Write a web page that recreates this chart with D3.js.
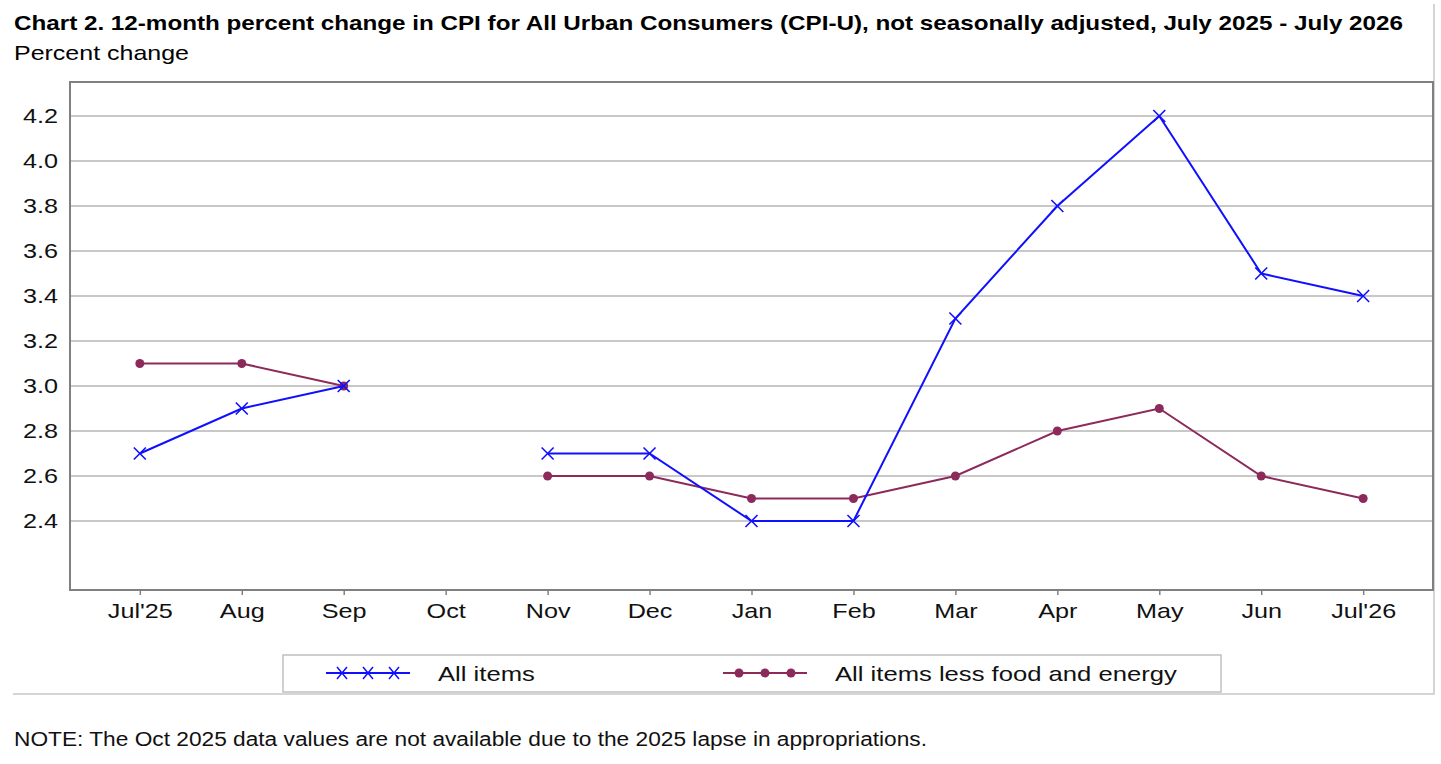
<!DOCTYPE html>
<html lang="en">
<head>
    <meta charset="UTF-8">
    <title>CPI chart</title>
    <script src="https://cdn.jsdelivr.net/npm/d3@7"></script>
    <style>
        * { padding: 0; margin: 0; }
        body { background: #fff; }
        svg { display: block; font-family: "Liberation Sans", Arial, sans-serif; }
    </style>
</head>
<body>
    <div class="context"></div>
    <script>
        // data
        let months = ["Jul'25", "Aug", "Sep", "Oct", "Nov", "Dec", "Jan", "Feb", "Mar", "Apr", "May", "Jun", "Jul'26"];
        let allItems = [2.7, 2.9, 3.0, null, 2.7, 2.7, 2.4, 2.4, 3.3, 3.8, 4.2, 3.5, 3.4];
        let coreItems = [3.1, 3.1, 3.0, null, 2.6, 2.6, 2.5, 2.5, 2.6, 2.8, 2.9, 2.6, 2.5];
        let yTicks = [2.4, 2.6, 2.8, 3.0, 3.2, 3.4, 3.6, 3.8, 4.0, 4.2];

        let blue = "#1010ff";
        let purple = "#8c2a5c";
        let W = 1441, H = 764;
        let plot = { left: 70, right: 1433, top: 82, bottom: 590 };
        let stretch = 1.2; // reference font is wider than Arial

        var svg = d3.select(".context").append("svg")
            .attr("width", W)
            .attr("height", H);

        // widen a text node horizontally keeping its height
        function widen(sel, k) {
            sel.each(function () {
                let len = this.getComputedTextLength();
                d3.select(this).attr("textLength", len * k).attr("lengthAdjust", "spacingAndGlyphs");
            });
        }

        // outer frame (right + bottom only)
        svg.append("path")
            .attr("d", "M1434,4 V694 H13")
            .attr("fill", "none")
            .attr("stroke", "#c8c8c8")
            .attr("stroke-width", 1.5);

        svg.append("text")
            .attr("x", 14).attr("y", 30)
            .attr("font-size", 21).attr("font-weight", "bold")
            .attr("textLength", 1389).attr("lengthAdjust", "spacingAndGlyphs")
            .text("Chart 2. 12-month percent change in CPI for All Urban Consumers (CPI-U), not seasonally adjusted, July 2025 - July 2026");
        svg.append("text")
            .attr("x", 14).attr("y", 60)
            .attr("font-size", 21)
            .attr("textLength", 175).attr("lengthAdjust", "spacingAndGlyphs")
            .text("Percent change");

        let x = d3.scalePoint().domain(months).range([plot.left, plot.right]).padding(0.685);
        // 4.2 sits at y=116, 2.4 at y=521
        let y = d3.scaleLinear().domain([2.0933, 4.351]).range([plot.bottom, plot.top]);

        // gridlines
        svg.append("g").selectAll("line").data(yTicks).enter().append("line")
            .attr("x1", plot.left).attr("x2", plot.right)
            .attr("y1", d => y(d)).attr("y2", d => y(d))
            .attr("stroke", "#c8c8c8").attr("stroke-width", 2);

        // frame of plot
        svg.append("rect")
            .attr("x", plot.left).attr("y", plot.top)
            .attr("width", plot.right - plot.left).attr("height", plot.bottom - plot.top)
            .attr("fill", "none").attr("stroke", "#808080").attr("stroke-width", 2);

        // y axis
        let yAxis = svg.append("g")
            .attr("transform", "translate(" + plot.left + ",0)")
            .call(d3.axisLeft(y).tickValues(yTicks).tickFormat(d3.format(".1f")).tickSize(0).tickPadding(12));
        yAxis.select(".domain").remove();
        yAxis.selectAll("text").attr("font-size", 21).attr("fill", "#111").attr("font-family", "Liberation Sans, Arial, sans-serif")
            .call(widen, stretch);

        // x axis
        let xAxis = svg.append("g")
            .attr("transform", "translate(0," + (plot.bottom + 1) + ")")
            .call(d3.axisBottom(x).tickSize(4).tickPadding(8));
        xAxis.select(".domain").remove();
        xAxis.selectAll("line").attr("stroke", "#808080").attr("stroke-width", 1.5);
        xAxis.selectAll("text").attr("font-size", 21).attr("fill", "#111").attr("font-family", "Liberation Sans, Arial, sans-serif")
            .call(widen, stretch);

        let line = d3.line()
            .defined(d => d.v !== null)
            .x(d => x(d.m))
            .y(d => y(d.v));

        function series(values, color, marker) {
            let pts = months.map((m, i) => ({ m: m, v: values[i] }));
            svg.append("path")
                .datum(pts)
                .attr("d", line)
                .attr("fill", "none")
                .attr("stroke", color)
                .attr("stroke-width", 2);
            let good = pts.filter(d => d.v !== null);
            if (marker === "x") {
                svg.append("g").selectAll("path").data(good).enter().append("path")
                    .attr("d", d => {
                        let cx = x(d.m), cy = y(d.v), s = 6;
                        return "M" + (cx - s) + "," + (cy - s) + "L" + (cx + s) + "," + (cy + s) +
                            "M" + (cx - s) + "," + (cy + s) + "L" + (cx + s) + "," + (cy - s);
                    })
                    .attr("stroke", color).attr("stroke-width", 1.6).attr("fill", "none");
            } else {
                svg.append("g").selectAll("circle").data(good).enter().append("circle")
                    .attr("cx", d => x(d.m)).attr("cy", d => y(d.v))
                    .attr("r", 4.5).attr("fill", color);
            }
        }
        series(coreItems, purple, "dot");
        series(allItems, blue, "x");

        // legend
        let lg = svg.append("g");
        lg.append("rect")
            .attr("x", 283).attr("y", 655).attr("width", 938).attr("height", 37)
            .attr("fill", "#fff").attr("stroke", "#c0c0c0").attr("stroke-width", 1.5);
        let legendItems = [
            { name: "All items", color: blue, marker: "x", x0: 326, tx: 438 },
            { name: "All items less food and energy", color: purple, marker: "dot", x0: 723, tx: 835 }
        ];
        legendItems.forEach(item => {
            let ly = 673;
            lg.append("line")
                .attr("x1", item.x0).attr("x2", item.x0 + 84)
                .attr("y1", ly).attr("y2", ly)
                .attr("stroke", item.color).attr("stroke-width", 2);
            [0, 1, 2].forEach(k => {
                let cx = item.x0 + 16 + k * 26;
                if (item.marker === "x") {
                    lg.append("path")
                        .attr("d", "M" + (cx - 5) + "," + (ly - 6) + "L" + (cx + 5) + "," + (ly + 6) +
                            "M" + (cx - 5) + "," + (ly + 6) + "L" + (cx + 5) + "," + (ly - 6))
                        .attr("stroke", item.color).attr("stroke-width", 1.5);
                } else {
                    lg.append("circle").attr("cx", cx).attr("cy", ly).attr("r", 4.5).attr("fill", item.color);
                }
            });
            lg.append("text")
                .attr("x", item.tx).attr("y", ly + 8)
                .attr("font-size", 21).attr("fill", "#111")
                .text(item.name)
                .call(widen, 1.22);
        });

        svg.append("text")
            .attr("x", 14).attr("y", 746)
            .attr("font-size", 20).attr("fill", "#111")
            .attr("textLength", 913).attr("lengthAdjust", "spacingAndGlyphs")
            .text("NOTE: The Oct 2025 data values are not available due to the 2025 lapse in appropriations.");
    </script>
</body>
</html>
